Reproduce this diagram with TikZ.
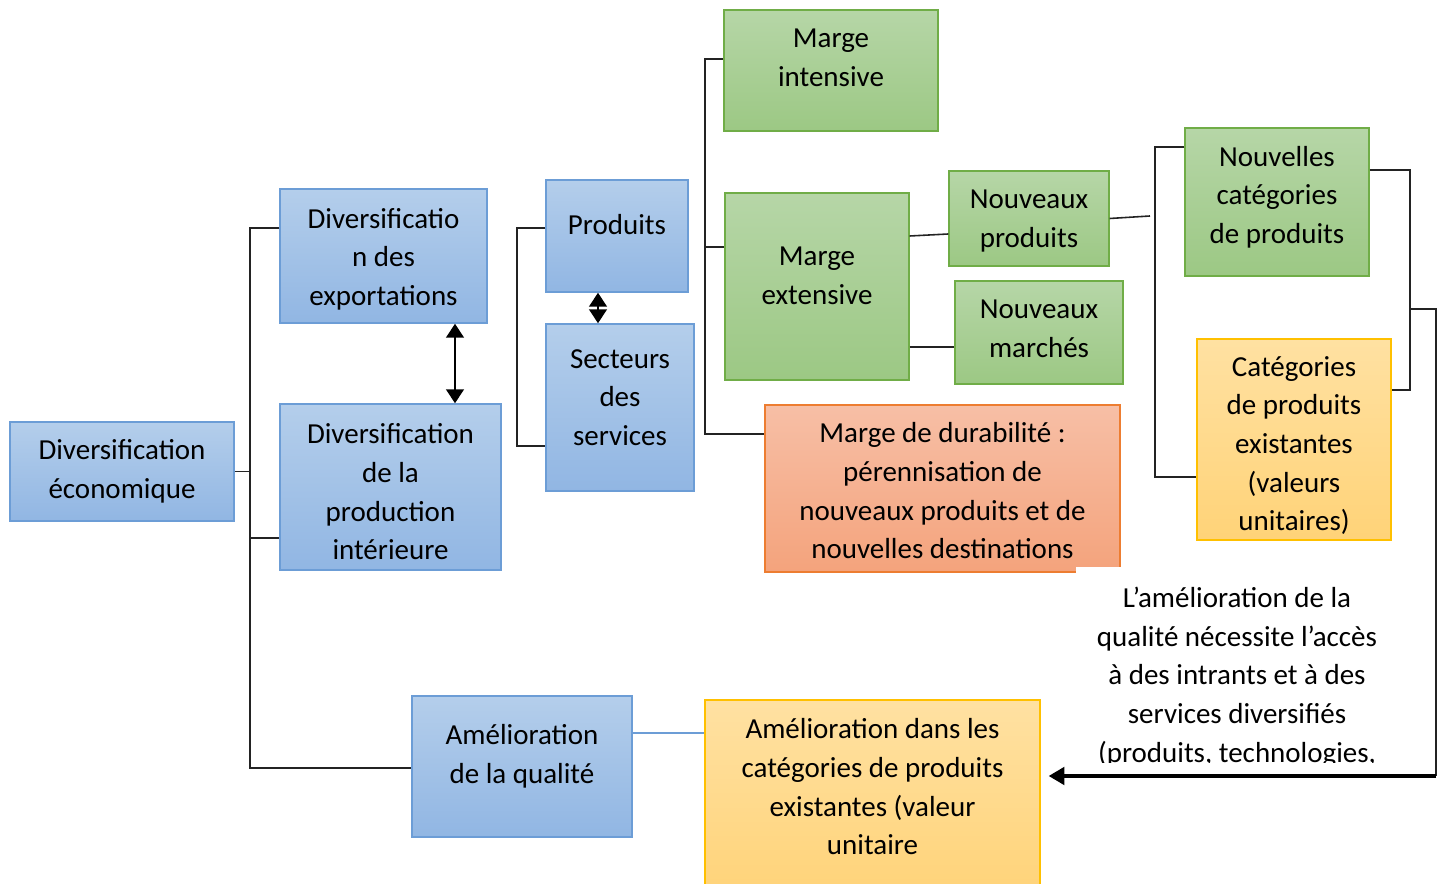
\documentclass[tikz,border=0pt]{standalone}
\usepackage{fontspec}
\setmainfont{Carlito}
\usepackage{tikz}
\usetikzlibrary{arrows.meta,shapes,positioning,calc}
\definecolor{divbluetop}{RGB}{180,206,235}
\definecolor{divbluebot}{RGB}{145,182,227}
\definecolor{divblueline}{RGB}{108,157,214}
\definecolor{divgreentop}{RGB}{182,214,167}
\definecolor{divgreenbot}{RGB}{156,200,132}
\definecolor{divgreenline}{RGB}{112,173,71}
\definecolor{divorangetop}{RGB}{247,191,166}
\definecolor{divorangebot}{RGB}{244,163,124}
\definecolor{divorangeline}{RGB}{237,125,49}
\definecolor{divyellowtop}{RGB}{255,225,162}
\definecolor{divyellowbot}{RGB}{255,211,120}
\definecolor{divyellowline}{RGB}{255,192,0}
\definecolor{linkgray}{RGB}{35,35,35}

\begin{document}
\begin{tikzpicture}[
    x=0.02cm, y=-0.02cm,
    box/.style={rectangle, inner sep=0pt, align=center, font=\fontsize{16.5}{22}\selectfont, line width=0.8pt},
    bluebox/.style={box, draw=divblueline, top color=divbluetop, bottom color=divbluebot},
    greenbox/.style={box, draw=divgreenline, top color=divgreentop, bottom color=divgreenbot},
    orangebox/.style={box, draw=divorangeline, top color=divorangetop, bottom color=divorangebot},
    yellowbox/.style={box, draw=divyellowline, top color=divyellowtop, bottom color=divyellowbot},
    link/.style={draw=linkgray, line width=0.9pt},
    bluelink/.style={draw=divblueline, line width=0.6pt},
    twoway/.style={{Triangle[length=8pt,width=10pt]}-{Triangle[length=8pt,width=10pt]}, line width=1.6pt},
    feedback/.style={-{Triangle[length=9pt,width=10pt]}, line width=2pt}
]
    \useasboundingbox (0,0) rectangle (1445,884);

    % boxes
    \node[bluebox, minimum width=4.48cm, minimum height=1.98cm] (econ) at (122,471.5) {Diversification\\économique};
    \node[bluebox, minimum width=4.14cm, minimum height=2.68cm, label={[box, yshift=-0.06cm]center:{Diversificatio\\n des\\exportations}}] (exports) at (383.5,256) {};
    \node[bluebox, minimum width=4.42cm, minimum height=3.32cm, label={[box, yshift=-0.1cm]center:{Diversification\\de la\\production\\intérieure}}] (domestic) at (390.5,487) {};
    \node[bluebox, minimum width=2.84cm, minimum height=2.24cm, label={[box, yshift=0.22cm]center:Produits}] (products) at (617,236) {};
    \node[bluebox, minimum width=2.96cm, minimum height=3.34cm, label={[box, yshift=0.2cm]center:{Secteurs\\des\\services}}] (services) at (620,407.5) {};
    \node[greenbox, minimum width=4.28cm, minimum height=2.42cm, label={[box, yshift=0.26cm]center:{Marge\\intensive}}] (intensive) at (831,70.5) {};
    \node[greenbox, minimum width=3.68cm, minimum height=3.74cm, label={[box, yshift=0.22cm]center:{Marge\\extensive}}] (extensive) at (817,286.5) {};
    \node[greenbox, minimum width=3.2cm, minimum height=1.9cm, label={[box, yshift=-0.05cm]center:{Nouveaux\\produits}}] (newprod) at (1029,218.5) {};
    \node[greenbox, minimum width=3.36cm, minimum height=2.06cm, label={[box, yshift=0.08cm]center:{Nouveaux\\marchés}}] (newmarket) at (1039,332.5) {};
    \node[orangebox, minimum width=7.1cm, minimum height=3.34cm, label={[box, yshift=-0.05cm]center:{Marge de durabilité :\\pérennisation de\\nouveaux produits et de\\nouvelles destinations}}] (durable) at (942.5,488.5) {};
    \node[greenbox, minimum width=3.68cm, minimum height=2.96cm, label={[box, yshift=0.1cm]center:{Nouvelles\\catégories\\de produits}}] (newcat) at (1277,202) {};
    \node[yellowbox, minimum width=3.88cm, minimum height=4.02cm, label={[box, yshift=-0.12cm]center:{Catégories\\de produits\\existantes\\(valeurs\\unitaires)}}] (oldcat) at (1294,439.5) {};
    \node[bluebox, minimum width=4.4cm, minimum height=2.82cm, label={[box, yshift=0.2cm]center:{Amélioration\\de la qualité}}] (quality) at (522,766.5) {};
    \node[yellowbox, minimum width=6.7cm, minimum height=4cm, label={[box, yshift=0.26cm]center:{Amélioration dans les\\catégories de produits\\existantes (valeur\\unitaire}}] (within) at (872.5,800) {};

    % note box, cut off at its lower edge
    \begin{scope}
        \clip (1072,568) rectangle (1402,763);
        \node[box, fill=white, inner sep=12pt] (note) at (1237,677) {L’amélioration de la\\qualité nécessite l’accès\\à des intrants et à des\\services diversifiés\\(produits, technologies,};
    \end{scope}

    % bracket points
    \coordinate (s1a) at (250,228);
    \coordinate (s1b) at (250,768);
    \coordinate (s1c) at (250,538);
    \coordinate (s2a) at (517,228);
    \coordinate (s2b) at (517,446);
    \coordinate (s3a) at (705,59);
    \coordinate (s3b) at (705,434);
    \coordinate (s3c) at (705,247);
    \coordinate (s4a) at (1155,147);
    \coordinate (s4b) at (1155,477);
    \coordinate (s4c) at (1150,216);
    \coordinate (s5a) at (1410,170);
    \coordinate (s5b) at (1410,390);
    \coordinate (s5c) at (1410,309);
    \coordinate (s6a) at (1436,309);
    \coordinate (s6b) at (1436,776);

    % connectors
    \draw[link] (s1a -| exports.west) -- (s1a) -- (s1b) -- (s1b -| quality.west);
    \draw[link] (econ.east) -- (econ.east -| s1a);
    \draw[link] (s1c) -- (s1c -| domestic.west);
    \draw[twoway] ($(exports.south)+(71.5,0)$) coordinate (d1) -- (d1 |- domestic.north);

    \draw[link] (s2a -| products.west) -- (s2a) -- (s2b) -- (s2b -| services.west);
    \draw[twoway] ($(products.south)+(-19,0)$) coordinate (d2) -- (d2 |- services.north);

    \draw[link] (s3a -| intensive.west) -- (s3a) -- (s3b) -- (s3b -| durable.west);
    \draw[link] (s3c) -- (s3c -| extensive.west);
    \draw[link] ($(extensive.east)+(0,-50.5)$) -- ($(newprod.west)+(0,15.5)$);
    \draw[link] ($(extensive.east)+(0,60.5)$) coordinate (m1) -- (m1 -| newmarket.west);

    \draw[link] (newprod.east) -- (s4c);
    \draw[link] (s4a -| newcat.west) -- (s4a) -- (s4b) -- (s4b -| oldcat.west);

    \draw[link] (s5a -| newcat.east) -- (s5a) -- (s5b) -- (s5b -| oldcat.east);
    \draw[link] (s5c) -- (s6a) -- (s6b);
    \draw[feedback] (s6b) -- ($(s6b -| within.east)+(8,0)$);

    \draw[bluelink] ($(quality.east)+(0,-33.5)$) coordinate (q1) -- (q1 -| within.west);
\end{tikzpicture}
\end{document}
